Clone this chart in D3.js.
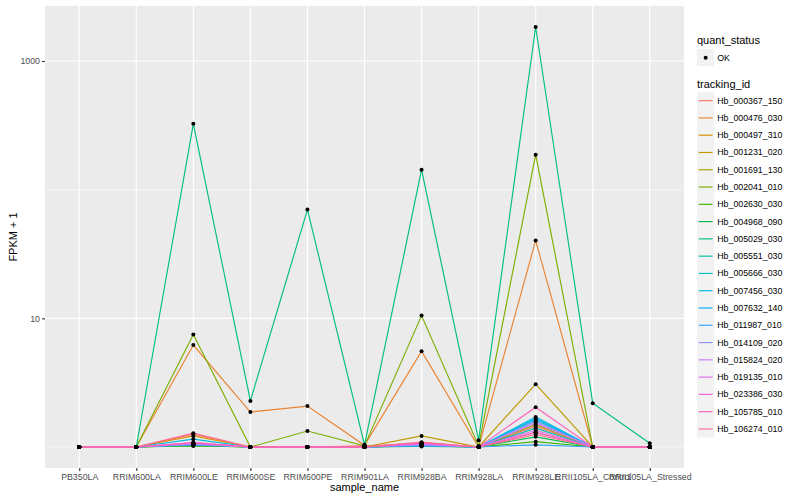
<!DOCTYPE html>
<html>
<head>
<meta charset="utf-8">
<script src="https://cdn.jsdelivr.net/npm/d3@7"></script>
<style>
body { margin: 0; background: #fff; }
text { font-family: "Liberation Sans", Arial, sans-serif; }
</style>
</head>
<body>
<script>
// samples on the x axis
var samples = ["PB350LA", "RRIM600LA", "RRIM600LE", "RRIM600SE", "RRIM600PE", "RRIM901LA",
    "RRIM928BA", "RRIM928LA", "RRIM928LE", "RRII105LA_Control", "RRII105LA_Stressed"];

// gene ids (legend order)
var trackingIds = ["Hb_000367_150", "Hb_000476_030", "Hb_000497_310", "Hb_001231_020", "Hb_001691_130",
    "Hb_002041_010", "Hb_002630_030", "Hb_004968_090", "Hb_005029_030", "Hb_005551_030",
    "Hb_005666_030", "Hb_007456_030", "Hb_007632_140", "Hb_011987_010", "Hb_014109_020",
    "Hb_015824_020", "Hb_019135_010", "Hb_023386_030", "Hb_105785_010", "Hb_106274_010"];

// FPKM + 1 per gene, one value per sample
var fpkm = [
    [1, 1, 1.26, 1, 1, 1.02, 1.06, 1, 1.45, 1, 1],
    [1, 1, 6.2, 1.87, 2.08, 1.03, 5.55, 1.0, 40.3, 1, 1],
    [1, 1, 1.22, 1, 1, 1.01, 1.04, 1, 1.3, 1, 1],
    [1, 1, 1.03, 1, 1, 1, 1.22, 1, 3.08, 1, 1],
    [1, 1, 1.04, 1, 1, 1, 1.03, 1, 1.5, 1, 1],
    [1, 1, 7.5, 1, 1.33, 1.02, 10.5, 1.02, 187, 1, 1],
    [1, 1, 1.02, 1, 1, 1, 1.02, 1, 1.1, 1, 1],
    [1, 1, 1.03, 1, 1, 1, 1.01, 1, 1.2, 1, 1],
    [1, 1, 325, 2.28, 70, 1.04, 143, 1.13, 1837, 2.19, 1.07],
    [1, 1, 1.05, 1, 1, 1, 1.03, 1, 1.4, 1, 1],
    [1, 1, 1.06, 1, 1, 1, 1.04, 1, 1.62, 1, 1],
    [1, 1, 1.15, 1, 1, 1, 1.05, 1, 1.71, 1, 1],
    [1, 1, 1.07, 1, 1, 1, 1.03, 1, 1.66, 1, 1],
    [1, 1, 1.04, 1, 1, 1, 1.02, 1, 1.04, 1, 1],
    [1, 1, 1.05, 1, 1, 1, 1.04, 1, 1.58, 1, 1],
    [1, 1, 1.06, 1, 1, 1, 1.05, 1, 1.54, 1, 1],
    [1, 1, 1.07, 1, 1, 1, 1.06, 1, 1.35, 1, 1],
    [1, 1, 1.08, 1, 1, 1, 1.07, 1, 1.3, 1, 1],
    [1, 1, 1.08, 1, 1, 1, 1.08, 1, 2.04, 1, 1],
    [1, 1, 1.28, 1, 1, 1, 1.09, 1, 1.25, 1, 1]
];

// ggplot hue palette for 20 levels
var palette = ["#F8766D", "#EA8331", "#D89000", "#C09B00", "#A3A500", "#7CAE00", "#39B600", "#00BB4E",
    "#00BF7D", "#00C1A3", "#00BFC4", "#00BAE0", "#00B0F6", "#35A2FF", "#9590FF", "#C77CFF",
    "#E76BF3", "#FA62DB", "#FF62BC", "#FF6C91"];

var majorTicks = [10, 1000];
var minorTicks = [1, 100];

var width = 800, height = 500;
var panel = {left: 45, right: 684, top: 6, bottom: 468};

var svg = d3.select("body").append("svg")
    .attr("width", width)
    .attr("height", height);

// log scale with ggplot-like 5% expansion
var allVals = d3.merge(fpkm);
var lo = Math.log10(d3.min(allVals)), hi = Math.log10(d3.max(allVals));
var pad = (hi - lo) * 0.05;
var y = d3.scaleLog()
    .domain([Math.pow(10, lo - pad), Math.pow(10, hi + pad)])
    .range([panel.bottom, panel.top]);

var x = d3.scalePoint()
    .domain(samples)
    .range([panel.left, panel.right])
    .padding(0.6);

var color = d3.scaleOrdinal().domain(trackingIds).range(palette);

// panel background
svg.append("rect")
    .attr("x", panel.left).attr("y", panel.top)
    .attr("width", panel.right - panel.left)
    .attr("height", panel.bottom - panel.top)
    .attr("fill", "#EBEBEB");

// grid lines
svg.selectAll(".minor").data(minorTicks).enter().append("line")
    .attr("x1", panel.left).attr("x2", panel.right)
    .attr("y1", d => y(d)).attr("y2", d => y(d))
    .attr("stroke", "#fff").attr("stroke-width", 0.55);

svg.selectAll(".major").data(majorTicks).enter().append("line")
    .attr("x1", panel.left).attr("x2", panel.right)
    .attr("y1", d => y(d)).attr("y2", d => y(d))
    .attr("stroke", "#fff").attr("stroke-width", 1.1);

svg.selectAll(".vgrid").data(samples).enter().append("line")
    .attr("x1", d => x(d)).attr("x2", d => x(d))
    .attr("y1", panel.top).attr("y2", panel.bottom)
    .attr("stroke", "#fff").attr("stroke-width", 1.1);

// lines
var line = d3.line()
    .x((d, i) => x(samples[i]))
    .y(d => y(d));

svg.selectAll(".series").data(fpkm).enter().append("path")
    .attr("d", line)
    .attr("fill", "none")
    .attr("stroke", (d, i) => color(trackingIds[i]))
    .attr("stroke-width", 1.15);

// points
fpkm.forEach(function(vals){
    svg.selectAll(null).data(vals).enter().append("circle")
        .attr("cx", (d, i) => x(samples[i]))
        .attr("cy", d => y(d))
        .attr("r", 2)
        .attr("fill", "#000");
});

// axes
var yAxis = svg.append("g")
    .attr("transform", "translate(" + panel.left + ",0)")
    .call(d3.axisLeft(y).tickValues(majorTicks).tickFormat(d3.format("d")).tickSize(3).tickPadding(2));
var xAxis = svg.append("g")
    .attr("transform", "translate(0," + panel.bottom + ")")
    .call(d3.axisBottom(x).tickSize(3).tickPadding(3));

[yAxis, xAxis].forEach(function(a){
    a.select(".domain").remove();
    a.selectAll(".tick line").attr("stroke", "#333333").attr("stroke-width", 1.1);
    a.selectAll(".tick text")
        .attr("fill", "#4D4D4D")
        .style("font-size", "8.8px")
        .style("font-family", "'Liberation Sans', Arial, sans-serif");
});

// axis titles
svg.append("text")
    .attr("x", (panel.left + panel.right) / 2)
    .attr("y", 491)
    .attr("text-anchor", "middle")
    .style("font-size", "11px")
    .text("sample_name");

svg.append("text")
    .attr("transform", "translate(17," + ((panel.top + panel.bottom) / 2) + ") rotate(-90)")
    .attr("text-anchor", "middle")
    .style("font-size", "11px")
    .text("FPKM + 1");

// legend: quant_status
var legX = 697, keySize = 17.28;
svg.append("text")
    .attr("x", legX).attr("y", 44)
    .style("font-size", "11px")
    .text("quant_status");

svg.append("rect")
    .attr("x", legX).attr("y", 49)
    .attr("width", keySize).attr("height", keySize)
    .attr("fill", "#F2F2F2");
svg.append("circle")
    .attr("cx", legX + keySize / 2).attr("cy", 49 + keySize / 2)
    .attr("r", 2).attr("fill", "#000");
svg.append("text")
    .attr("x", legX + keySize + 3).attr("y", 49 + keySize / 2 + 3)
    .style("font-size", "8.8px")
    .text("OK");

// legend: tracking_id
svg.append("text")
    .attr("x", legX).attr("y", 88)
    .style("font-size", "11px")
    .text("tracking_id");

var keys = svg.selectAll(".key").data(trackingIds).enter().append("g")
    .attr("transform", (d, i) => "translate(" + legX + "," + (92 + i * keySize) + ")");

keys.append("rect")
    .attr("width", keySize).attr("height", keySize)
    .attr("fill", "#F2F2F2");
keys.append("line")
    .attr("x1", 1.7).attr("x2", keySize - 1.7)
    .attr("y1", keySize / 2).attr("y2", keySize / 2)
    .attr("stroke", d => color(d))
    .attr("stroke-width", 1.15);
keys.append("text")
    .attr("x", keySize + 3).attr("y", keySize / 2 + 3)
    .style("font-size", "8.8px")
    .text(d => d);
</script>
</body>
</html>
